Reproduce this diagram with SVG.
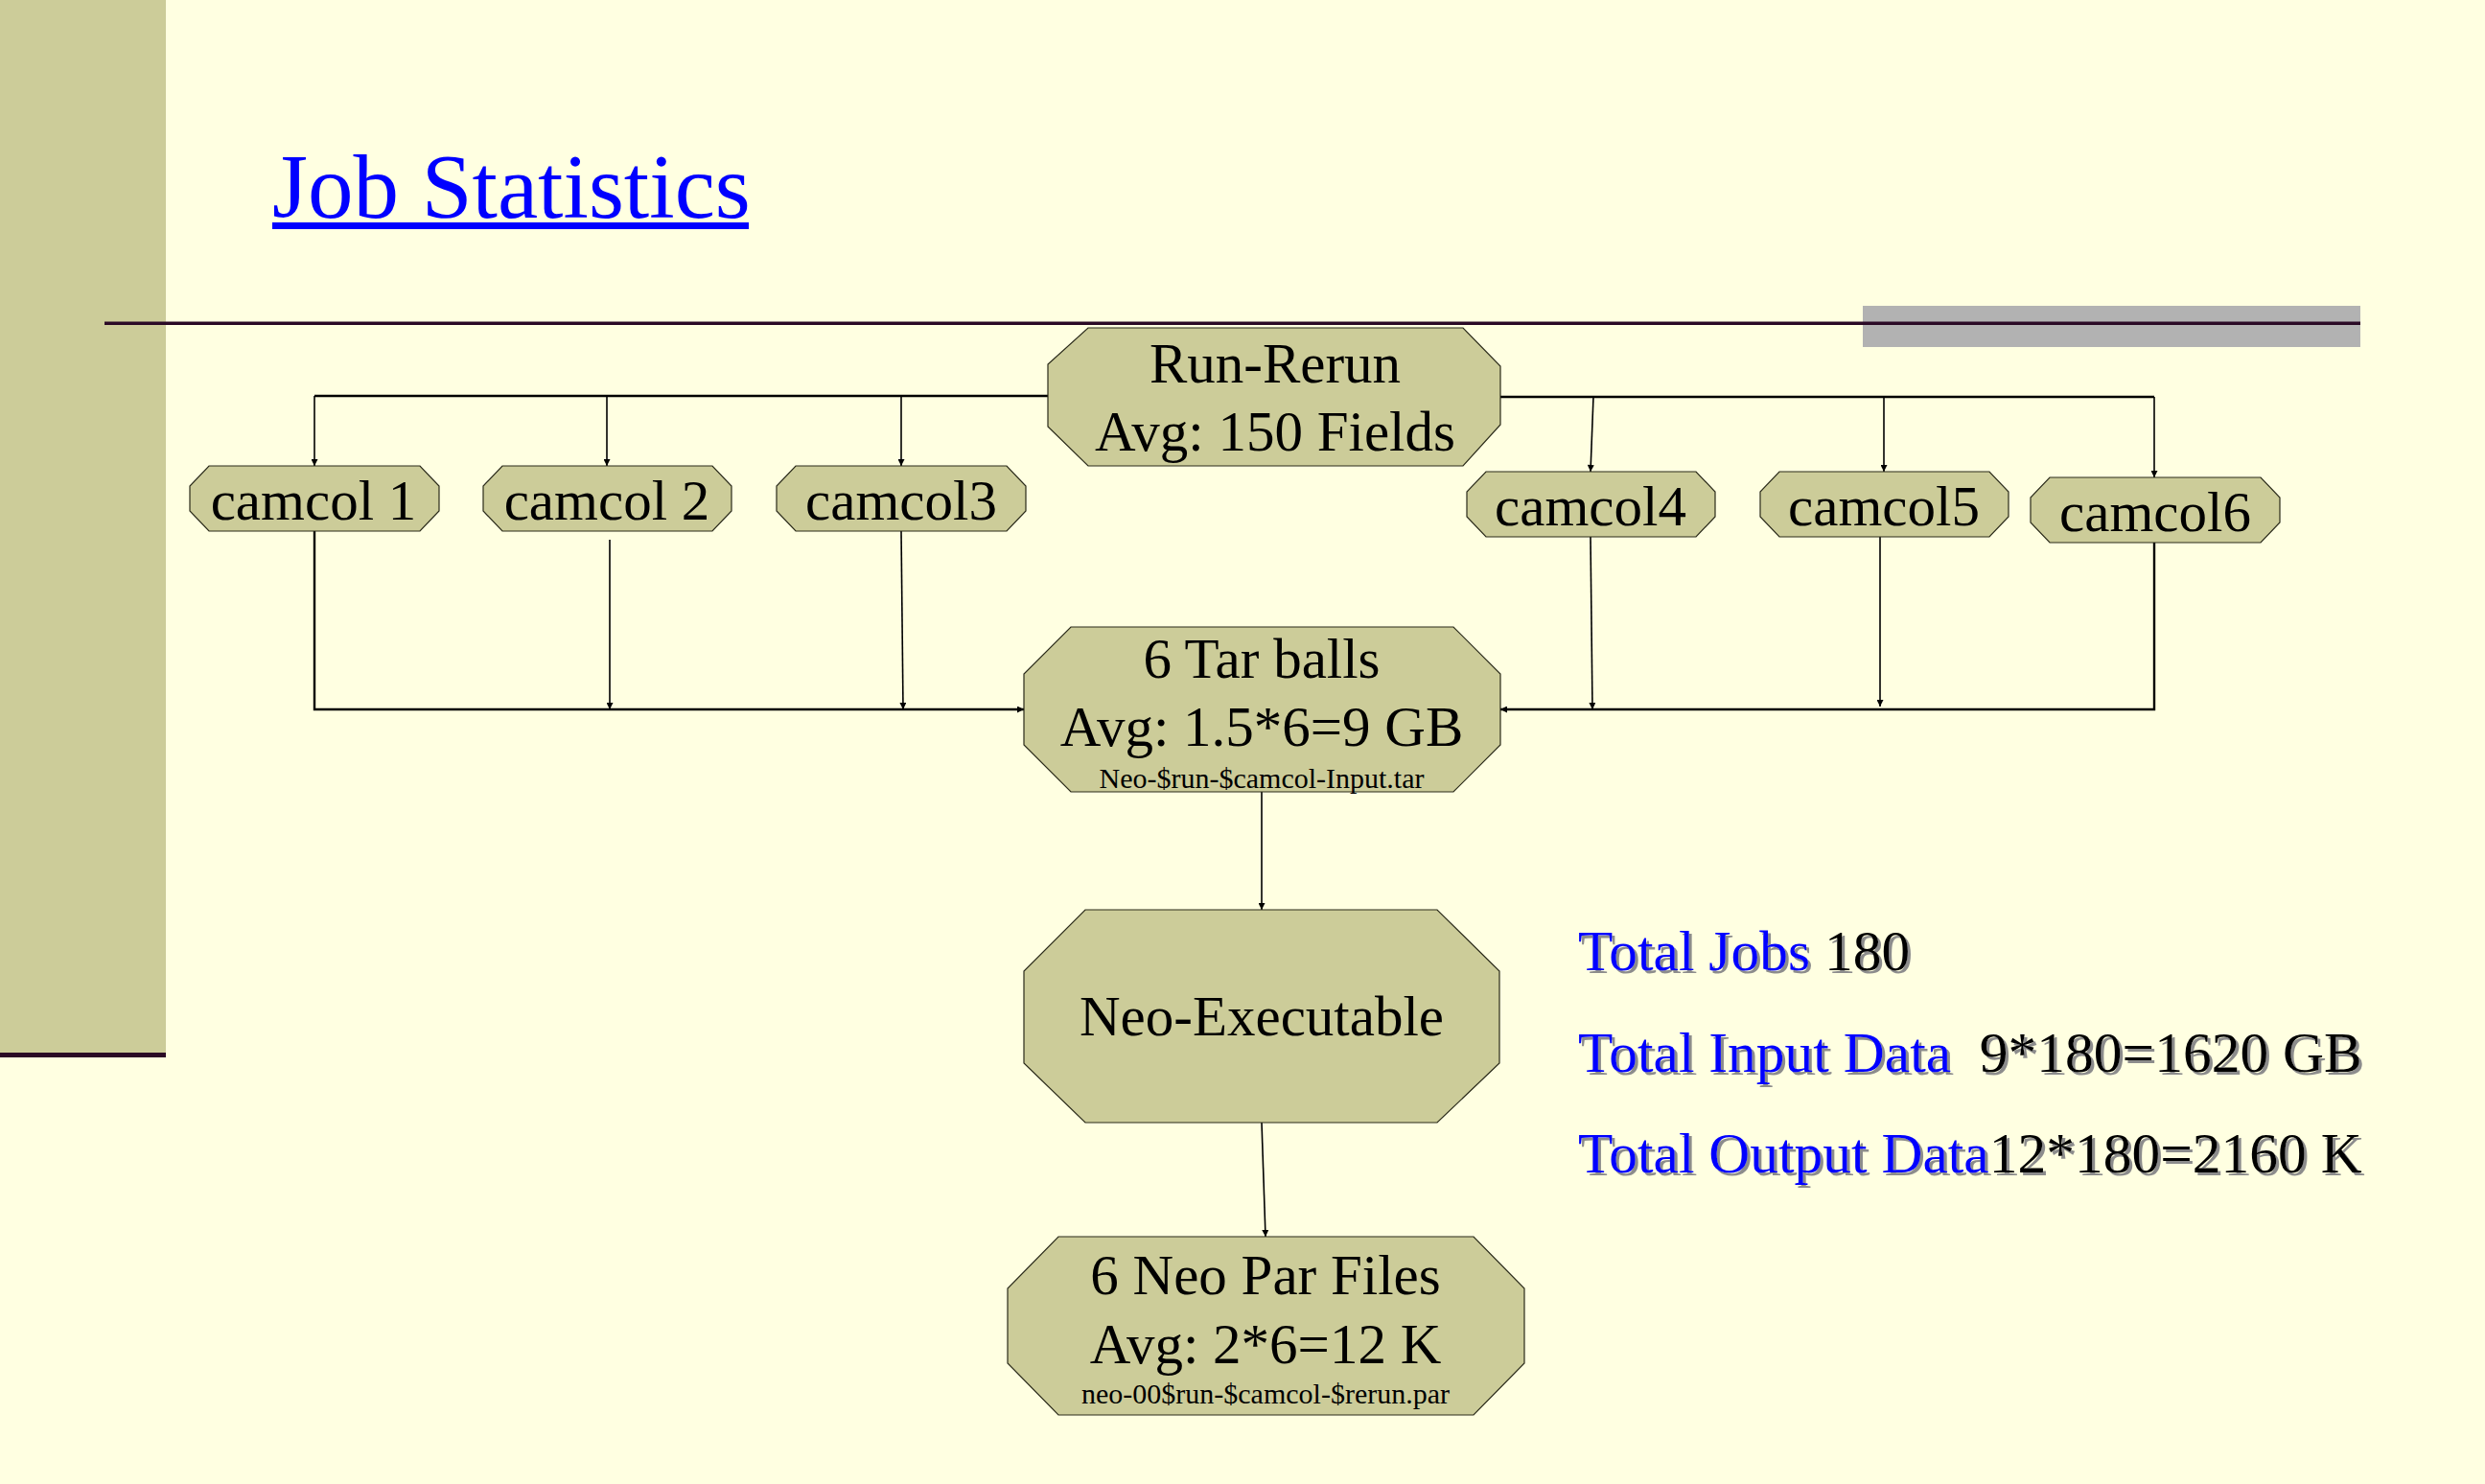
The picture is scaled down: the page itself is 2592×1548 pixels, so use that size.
<svg xmlns="http://www.w3.org/2000/svg" width="2592" height="1548" viewBox="0 0 2592 1548">
<defs>
<style>
.node{fill:#CCCC99;stroke:#2a2a1a;stroke-width:1.2}
.t{font-family:"Liberation Serif","Times New Roman",serif;font-size:59px;fill:#000;text-anchor:middle}
.s{font-family:"Liberation Serif","Times New Roman",serif;font-size:30px;fill:#000;text-anchor:middle}
.stat{font-family:"Liberation Serif","Times New Roman",serif;font-size:59.5px;fill:#000}
.blue{fill:#0000FF}
.trunk{fill:none;stroke:#000;stroke-width:2.4}
.drop{fill:none;stroke:#000;stroke-width:1.6;marker-end:url(#arr)}
.dropt{fill:none;stroke:#000;stroke-width:2.4;marker-end:url(#arr)}
</style>
<marker id="arr" viewBox="0 0 10 10" refX="10" refY="5" markerUnits="userSpaceOnUse" markerWidth="9" markerHeight="7" orient="auto">
<path d="M0,0 L10,5 L0,10 z" fill="#000"/>
</marker>
<filter id="shadow" x="-5%" y="-20%" width="110%" height="140%">
<feDropShadow dx="3" dy="3" stdDeviation="0.6" flood-color="#8c8c8c" flood-opacity="1"/>
</filter>
</defs>

<rect x="0" y="0" width="2592" height="1548" fill="#FFFFE1"/>
<rect x="0" y="0" width="173" height="1098" fill="#CCCC99"/>
<rect x="0" y="1098" width="173" height="5" fill="#2B0A26"/>
<rect x="1943" y="319" width="519" height="43" fill="#B2B2B2"/>
<rect x="109" y="335.5" width="2353" height="3.5" fill="#2B0A26"/>

<g id="title">
<text x="284" y="227" font-family="Liberation Serif,'Times New Roman',serif" font-size="95" fill="#0000FF">Job Statistics</text>
<rect x="284" y="232" width="497" height="7" fill="#0000FF"/>
</g>

<g id="connectors">
<path class="trunk" d="M1093,413 L328,413"/>
<path class="drop" d="M328,413 L328,486"/>
<path class="drop" d="M633,413 L633,486"/>
<path class="drop" d="M940,413 L940,486"/>
<path class="trunk" d="M1565,414 L2247,414"/>
<path class="drop" d="M1662,414 L1659,492"/>
<path class="drop" d="M1965,414 L1965,492"/>
<path class="drop" d="M2247,414 L2247,498"/>
<path class="dropt" d="M328,554 L328,740 L1068,740"/>
<path class="drop" d="M636,563 L636,740"/>
<path class="drop" d="M940,554 L942,740"/>
<path class="dropt" d="M2247,566 L2247,740 L1565,740"/>
<path class="drop" d="M1659,560 L1661,740"/>
<path class="drop" d="M1961,559 L1961,737"/>
<path class="drop" d="M1316,826 L1316,949"/>
<path class="drop" d="M1316,1171 L1320,1290"/>
</g>

<g id="run-rerun">
<polygon class="node" points="1135,342 1526,342 1565,382 1565,443 1526,486 1135,486 1093,445 1093,380"/>
<text class="t" x="1330" y="399">Run-Rerun</text>
<text class="t" x="1330" y="470">Avg: 150 Fields</text>
</g>

<g id="camcol1">
<polygon class="node" points="218,486 438,486 458,507 458,533 438,554 218,554 198,533 198,507"/>
<text class="t" x="327" y="542">camcol 1</text>
</g>
<g id="camcol2">
<polygon class="node" points="524,486 743,486 763,507 763,533 743,554 524,554 504,533 504,507"/>
<text class="t" x="633" y="542">camcol 2</text>
</g>
<g id="camcol3">
<polygon class="node" points="830,486 1050,486 1070,507 1070,533 1050,554 830,554 810,533 810,507"/>
<text class="t" x="940" y="542">camcol3</text>
</g>
<g id="camcol4">
<polygon class="node" points="1550,492 1769,492 1789,513 1789,539 1769,560 1550,560 1530,539 1530,513"/>
<text class="t" x="1659" y="548">camcol4</text>
</g>
<g id="camcol5">
<polygon class="node" points="1856,492 2075,492 2095,513 2095,539 2075,560 1856,560 1836,539 1836,513"/>
<text class="t" x="1965" y="548">camcol5</text>
</g>
<g id="camcol6">
<polygon class="node" points="2138,498 2358,498 2378,519 2378,545 2358,566 2138,566 2118,545 2118,519"/>
<text class="t" x="2248" y="554">camcol6</text>
</g>

<g id="tarballs">
<polygon class="node" points="1117,654 1516,654 1565,703 1565,777 1516,826 1117,826 1068,777 1068,703"/>
<text class="t" x="1316" y="707">6 Tar balls</text>
<text class="t" x="1316" y="778">Avg: 1.5*6=9 GB</text>
<text class="s" x="1316" y="822">Neo-$run-$camcol-Input.tar</text>
</g>

<g id="neo-executable">
<polygon class="node" points="1132,949 1499,949 1564,1013 1564,1109 1499,1171 1132,1171 1068,1109 1068,1013"/>
<text class="t" x="1316" y="1080">Neo-Executable</text>
</g>

<g id="parfiles">
<polygon class="node" points="1104,1290 1537,1290 1590,1344 1590,1422 1537,1476 1104,1476 1051,1422 1051,1344"/>
<text class="t" x="1320" y="1350">6 Neo Par Files</text>
<text class="t" x="1320" y="1422">Avg: 2*6=12 K</text>
<text class="s" x="1320" y="1464">neo-00$run-$camcol-$rerun.par</text>
</g>

<g id="stats" filter="url(#shadow)">
<text class="stat" x="1646" y="1012" xml:space="preserve"><tspan class="blue">Total Jobs</tspan> 180</text>
<text class="stat" x="1646" y="1118" xml:space="preserve"><tspan class="blue">Total Input Data</tspan>  9*180=1620 GB</text>
<text class="stat" x="1646" y="1223"><tspan class="blue">Total Output Data</tspan>12*180=2160 K</text>
</g>
</svg>
